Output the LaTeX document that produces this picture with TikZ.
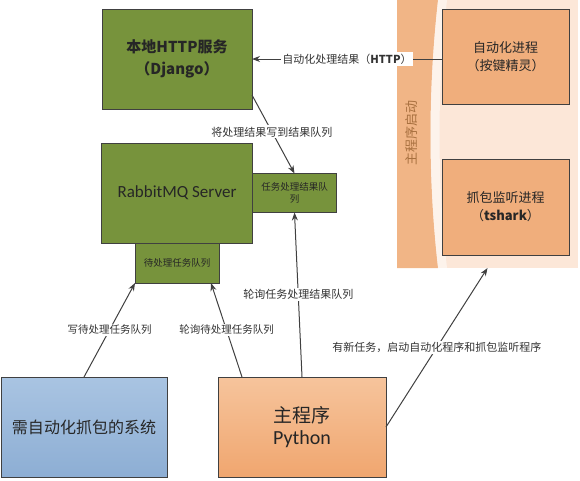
\documentclass[tikz,border=0pt]{standalone}
\usepackage{fontspec}
\setmainfont{Noto Sans CJK SC}
\newfontfamily\latinfont{Carlito}
\usepackage{tikz}
\usetikzlibrary{positioning}
\usetikzlibrary{arrows.meta}
\definecolor{olivebox}{HTML}{77933C}
\definecolor{linegray}{HTML}{404040}
\definecolor{textgray}{HTML}{333333}
\definecolor{orangebox}{HTML}{F0AE7C}
\definecolor{paneldark}{HTML}{F1B586}
\definecolor{panellight}{HTML}{FCE7D8}
\definecolor{titlebrown}{HTML}{A8703F}
\definecolor{bluetop}{HTML}{A9C4E2}
\definecolor{bluebottom}{HTML}{8DAED4}
\definecolor{orangetop}{HTML}{F6C49C}
\definecolor{orangebottom}{HTML}{F0A66F}
\tikzset{	x=1pt, y=-1pt,
	box/.style={
		draw=linegray,
		line width=0.8pt,
		align=center,
		inner sep=0pt,
		outer sep=0pt,
		text=black!85},
	greenbox/.style={box, fill=olivebox},
	procbox/.style={box, fill=orangebox,
		minimum width=127pt, minimum height=95pt,
		font=\fontsize{13}{18}\selectfont},
	lbl/.style={
		fill=white,
		inner sep=1.5pt,
		text=textgray,
		font=\fontsize{11}{13}\selectfont},
	every edge/.style={
		draw=linegray,
		line width=1pt,
		-{Stealth[length=8pt,width=6pt]}}
}
\begin{document}
\begin{tikzpicture}
	\useasboundingbox (0,0) rectangle (580,480);
	% right panel started by the main program
	\node[fill=panellight, minimum width=181pt, minimum height=268pt, inner sep=0pt, outer sep=0pt] (panel) at (487.5,134) {};
	\fill[paneldark] (panel.north west) -- (438,0) .. controls (428,90) and (428,180) .. (438,268) -- (panel.south west) -- cycle;
	\fill[white, opacity=0.5] (438,0) .. controls (428,90) and (428,180) .. (438,268) -- (447,268) .. controls (437,180) and (437,90) .. (447,0) -- cycle;
	\node[rotate=90, text=titlebrown, font=\fontsize{13}{15}\selectfont] (ptitle) at (412,133) {主程序启动};
	\node[procbox] (auto) at (505.5,56.5) {自动化进程\\（按键精灵）};
	\node[procbox, minimum height=96pt, below=55pt of auto] (shark) {抓包监听进程\\（\textbf{tshark}）};
	% left column
	\node[greenbox, minimum width=150pt, minimum height=100pt, font=\fontsize{15}{22}\selectfont] (django) at (177,59) {\textbf{本地HTTP服务}\\\textbf{（Django）}};
	\node[greenbox, minimum width=151pt, minimum height=100pt, below=34pt of django, font=\latinfont\fontsize{17}{20}\selectfont] (rabbit) {RabbitMQ Server};
	\node[greenbox, minimum width=84pt, minimum height=39pt, right=0pt of rabbit, font=\fontsize{9.5}{12}\selectfont] (result) {任务处理结果队\\列};
	\node[greenbox, minimum width=84pt, minimum height=40pt, below=0pt of rabbit, font=\fontsize{9.5}{12}\selectfont] (pending) {待处理任务队列};
	\node[box, top color=bluetop, bottom color=bluebottom, minimum width=166pt, minimum height=100pt, font=\fontsize{16}{20}\selectfont] (sys) at (84,427) {需自动化抓包的系统};
	\node[box, top color=orangetop, bottom color=orangebottom, minimum width=168pt, minimum height=100pt] (python) at (302,427) {{\fontsize{19}{22}\selectfont 主程序}\\[6pt]{\latinfont\fontsize{20}{22}\selectfont Python}};
	% connectors
	\draw (auto.west |- django.east) edge node[lbl, pos=0.5] {自动化处理结果（\textbf{HTTP}）} (django.east);
	\draw ([yshift=14pt]django.south east) edge node[lbl, pos=0.47] {将处理结果写到结果队列} (result.north);
	\draw (sys.north) edge node[lbl, pos=0.5, font=\fontsize{10.5}{12}\selectfont] {写待处理任务队列} (pending.south west);
	\draw ([xshift=24pt]python.north west) edge node[lbl, pos=0.5, font=\fontsize{10.5}{12}\selectfont] {轮询待处理任务队列} ([xshift=-8pt]pending.south east);
	\draw (python.north) edge node[lbl, pos=0.5] {轮询任务处理结果队列} (result.south);
	\draw (python.east) edge node[lbl, pos=0.5] {有新任务，启动自动化程序和抓包监听程序} (panel.south);
\end{tikzpicture}
\end{document}
